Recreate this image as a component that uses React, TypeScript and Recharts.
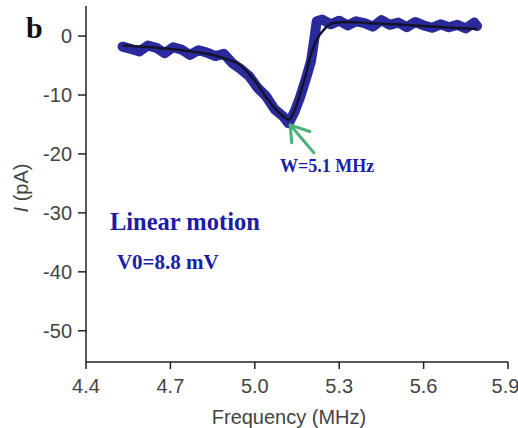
import React from "react";
import {
  ComposedChart,
  Line,
  XAxis,
  YAxis,
  ReferenceDot,
  ReferenceLine,
} from "recharts";

// Measured data (frequency in MHz, current in pA)
const dataFreq = [
  4.53, 4.56, 4.59, 4.62, 4.65, 4.68, 4.71, 4.74, 4.77, 4.8, 4.83, 4.86, 4.89,
  4.92, 4.95, 4.98, 5.01, 5.04, 5.07, 5.1, 5.12, 5.14, 5.16, 5.18, 5.2, 5.21,
  5.22, 5.24, 5.27, 5.3, 5.33, 5.36, 5.39, 5.42, 5.45, 5.48, 5.51, 5.54, 5.57,
  5.6, 5.63, 5.66, 5.69, 5.72, 5.75, 5.78, 5.79,
];
const dataCurrent = [
  -1.8, -2.2, -2.6, -1.6, -2.0, -2.9, -1.9, -2.3, -3.2, -2.4, -2.8, -3.4, -3.0,
  -4.6, -5.6, -6.8, -8.8, -10.2, -12.4, -13.6, -14.8, -13.0, -10.5, -7.5, -4.2,
  -1.0, 2.5, 2.8, 2.0, 2.6, 1.8, 2.5, 2.2, 1.6, 2.7, 1.9, 2.3, 1.5, 2.4, 1.8,
  1.4, 2.0, 1.5, 1.9, 1.3, 2.3, 1.7,
];

// Fitted curve
const fitFreq = [
  4.53, 4.6, 4.7, 4.8, 4.85, 4.9, 4.95, 5.0, 5.05, 5.1, 5.12, 5.14, 5.16, 5.18,
  5.2, 5.22, 5.25, 5.28, 5.33, 5.4, 5.5, 5.6, 5.7, 5.79,
];
const fitCurrent = [
  -1.6, -1.8, -2.2, -2.8, -3.2, -3.9, -5.0, -7.6, -11.0, -13.6, -14.2, -12.8,
  -10.0, -6.8, -3.0, -0.6, 1.3, 2.2, 2.4, 2.2, 2.0, 1.7, 1.4, 1.2,
];

const xTicks = [4.4, 4.7, 5.0, 5.3, 5.6, 5.9];
const yTicks = [0, -10, -20, -30, -40, -50];

const measured = dataFreq.map((f, i) => ({ f, v: dataCurrent[i] }));
const fit = fitFreq.map((f, i) => ({ f, v: fitCurrent[i] }));

const BLUE = "#2a2a9c";
const TEXT_BLUE = "#1c1ca6";
const GREEN = "#4cb07a";
const TICK = { fill: "#444", fontSize: 20, fontFamily: "Liberation Sans, Arial, sans-serif" };

const makeLabel =
  (text: string, size: number, color: string) =>
  (props: any) => {
    const vb = props.viewBox || {};
    return (
      <text
        x={vb.x}
        y={vb.y}
        dy="0.35em"
        fill={color}
        fontSize={size}
        fontWeight="bold"
        fontFamily="Liberation Serif, Times New Roman, serif"
      >
        {text}
      </text>
    );
  };

export default function App() {
  return (
    <div style={{ position: "absolute", left: 0, top: 0, width: 518, height: 428, background: "#fff" }}>
      <div
        style={{
          position: "absolute",
          left: 26,
          top: 13,
          fontFamily: "Liberation Serif, Times New Roman, serif",
          fontWeight: "bold",
          fontSize: 30,
          color: "#111",
          lineHeight: "30px",
        }}
      >
        b
      </div>
      <ComposedChart
        width={518}
        height={428}
        margin={{ top: 6, right: 10, left: 0, bottom: 6 }}
      >
        <XAxis
          xAxisId="main"
          dataKey="f"
          type="number"
          domain={[4.4, 5.9]}
          ticks={xTicks}
          allowDataOverflow
          tickFormatter={(v: number) => v.toFixed(1)}
          tick={TICK}
          tickSize={7}
          tickMargin={10}
          axisLine={{ stroke: "#222", strokeWidth: 1.5 }}
          tickLine={{ stroke: "#222", strokeWidth: 1.5 }}
          height={60}
          label={(props: any) => {
            const vb = props.viewBox || {};
            return (
              <text
                x={vb.x + vb.width / 2 - 8}
                y={vb.y + 62}
                textAnchor="middle"
                fill="#444"
                fontSize={20}
                fontFamily="Liberation Sans, Arial, sans-serif"
              >
                Frequency (MHz)
              </text>
            );
          }}
        />
        <XAxis
          xAxisId="top"
          orientation="top"
          type="number"
          domain={[4.4, 5.9]}
          height={0}
          tick={false}
          tickLine={false}
          axisLine={{ stroke: "#888", strokeWidth: 1.5 }}
        />
        <YAxis
          yAxisId="main"
          type="number"
          domain={[-55.3, 5.1]}
          ticks={yTicks}
          allowDataOverflow
          tick={TICK}
          tickSize={8}
          tickMargin={6}
          width={86}
          axisLine={{ stroke: "#222", strokeWidth: 1.5 }}
          tickLine={{ stroke: "#222", strokeWidth: 1.5 }}
          label={() => {
            const cx = 21;
            const cy = 188;
            return (
              <text
                x={cx}
                y={cy}
                dy="0.35em"
                textAnchor="middle"
                transform={`rotate(-90, ${cx}, ${cy})`}
                fill="#444"
                fontSize={20}
                fontFamily="Liberation Sans, Arial, sans-serif"
              >
                <tspan fontStyle="italic">I</tspan> (pA)
              </text>
            );
          }}
        />
        <YAxis
          yAxisId="right"
          orientation="right"
          type="number"
          domain={[-55.3, 5.1]}
          width={0}
          tick={false}
          tickLine={false}
          axisLine={{ stroke: "#888", strokeWidth: 1.5 }}
        />
        <Line
          xAxisId="main"
          yAxisId="main"
          data={measured}
          dataKey="v"
          type="linear"
          stroke={BLUE}
          strokeWidth={10}
          strokeLinejoin="round"
          strokeLinecap="round"
          dot={false}
          isAnimationActive={false}
        />
        <Line
          xAxisId="main"
          yAxisId="main"
          data={fit}
          dataKey="v"
          type="monotone"
          stroke="#141428"
          strokeWidth={2.5}
          dot={false}
          isAnimationActive={false}
        />
        <ReferenceLine
          xAxisId="main"
          yAxisId="main"
          segment={[{ x: 5.21, y: -19.8 }, { x: 5.126, y: -15.1 }]}
          stroke={GREEN}
          strokeWidth={3}
          strokeLinecap="round"
        />
        <ReferenceLine
          xAxisId="main"
          yAxisId="main"
          segment={[{ x: 5.126, y: -15.1 }, { x: 5.131, y: -18.1 }]}
          stroke={GREEN}
          strokeWidth={3}
          strokeLinecap="round"
        />
        <ReferenceLine
          xAxisId="main"
          yAxisId="main"
          segment={[{ x: 5.126, y: -15.1 }, { x: 5.196, y: -16.2 }]}
          stroke={GREEN}
          strokeWidth={3}
          strokeLinecap="round"
        />
        <ReferenceDot
          xAxisId="main"
          yAxisId="main"
          x={5.09}
          y={-22.0}
          r={0}
          fill="none"
          stroke="none"
          label={makeLabel("W=5.1 MHz", 18, TEXT_BLUE)}
        />
        <ReferenceDot
          xAxisId="main"
          yAxisId="main"
          x={4.485}
          y={-31.4}
          r={0}
          fill="none"
          stroke="none"
          label={makeLabel("Linear motion", 24.5, TEXT_BLUE)}
        />
        <ReferenceDot
          xAxisId="main"
          yAxisId="main"
          x={4.51}
          y={-38.3}
          r={0}
          fill="none"
          stroke="none"
          label={makeLabel("V0=8.8 mV", 21, TEXT_BLUE)}
        />
      </ComposedChart>
    </div>
  );
}
